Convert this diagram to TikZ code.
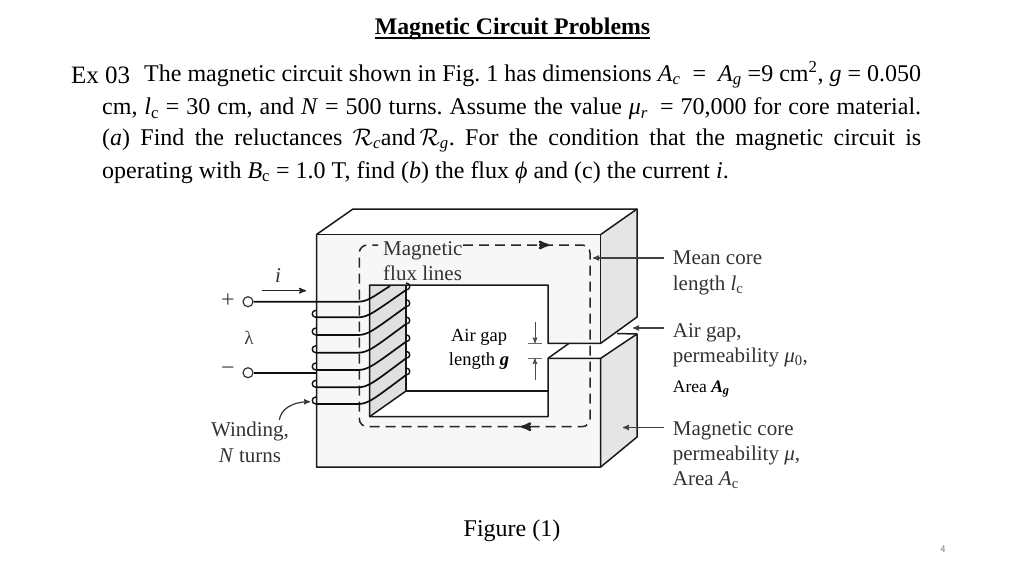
\documentclass[tikz,border=0pt]{standalone}
\usepackage{fix-cm}
\usepackage{amsmath}
\usepackage{fontspec}
\setmainfont{Liberation Serif}
\usetikzlibrary{calc}
\usetikzlibrary{arrows}
\frenchspacing
\newcommand{\fitline}[1]{\makebox[819pt][s]{#1}}
\newcommand{\vsym}[2]{\textit{#1}\textsubscript{\textit{#2}}}
\begin{document}
\begin{tikzpicture}[>=stealth',x=1pt,y=-1pt,line join=round]
\tikzset{edge/.style={draw=black!90,line width=1.5pt}}
\tikzset{wire/.style={draw=black!95,line width=1.7pt}}
\tikzset{leader/.style={draw=black!75,line width=1.2pt,->}}
\tikzset{terminal/.style={circle,draw=black!80,fill=white,line width=1.2pt,inner sep=0,minimum size=10pt}}
\tikzset{body/.style={font=\fontsize{24}{28}\selectfont,anchor=base west,inner sep=0}}
\tikzset{figlabel/.style={font=\fontsize{21}{25}\selectfont,text=black!80,anchor=base west,inner sep=0}}
\tikzset{small/.style={font=\fontsize{18.5}{22}\selectfont,anchor=base,inner sep=0}}

\useasboundingbox (0,0) rectangle (1024,576);

% text above the figure
\node[font=\fontsize{23.8}{27}\selectfont\bfseries,inner sep=0,anchor=base] (title) at (512.5,34) {Magnetic Circuit Problems};
\draw[line width=1.2pt] ($(title.base west)+(0,4)$) -- ($(title.base east)+(0,4)$);
\node[font=\fontsize{25}{29}\selectfont,anchor=base west,inner sep=0] (ex) at (71,83) {Ex 03};
\node[body] (line1) at (144,81) {\makebox[777pt][s]{The magnetic circuit shown in Fig. 1 has dimensions \vsym{A}{c}\enspace=\enspace\vsym{A}{g} =9 cm\textsuperscript{2}, \textit{g} = 0.050}};
\node[body] (line2) at (102,114.5) {\fitline{cm, \textit{l}\textsubscript{c} = 30 cm, and \textit{N} = 500 turns. Assume the value \vsym{μ}{r}\enspace= 70,000 for core material.}};
\node[body] (line3) at (102,145) {\fitline{(\textit{a}) Find the reluctances $\mathcal{R}$\textsubscript{\textit{c}}and\,$\mathcal{R}$\textsubscript{\textit{g}}. For the condition that the magnetic circuit is}};
\node[body] (line4) at (102,178) {operating with \textit{B}\textsubscript{c} = 1.0 T, find (\textit{b}) the flux \textit{ϕ} and (c) the current \textit{i}.};

% core faces
\fill[black!3] (316.5,234.5) -- (600.7,234.5) -- (600.7,343.3) -- (548,343.3) -- (548,285) -- (369.5,285) -- (369.5,416.7) -- (548,416.7) -- (548,358.3) -- (600.7,358.3) -- (600.7,467) -- (316.5,467) -- cycle;
\fill[black!10] (600.7,234.5) -- (637,209) -- (637,317) -- (600.7,343.3) -- cycle;
\fill[black!10] (600.7,358.3) -- (637,334) -- (637,437) -- (600.7,467) -- cycle;
\fill[black!12] (369.5,285) -- (406,285) -- (406,391) -- (369.5,416.7) -- cycle;

% core outline
\draw[edge] (316.5,234.5) -- (353,209) -- (637,209) -- (637,317) -- (600.7,343.3) -- (548,343.3) -- (548,285) -- (369.5,285) -- (369.5,416.7) -- (548,416.7) -- (548,358.3) -- (600.7,358.3) -- (600.7,467) -- (316.5,467) -- cycle;
\draw[edge] (316.5,234.5) -- (600.7,234.5) -- (600.7,343.3);
\draw[edge] (637,209) -- (600.7,234.5);
\draw[edge] (600.7,358.3) -- (637,334) -- (637,437) -- (600.7,467);
\draw[edge] (617,333.5) -- (637,334);
\draw[edge] (548,358.3) -- (569,343.3);
\draw[edge] (406,285) -- (406,391) -- (548,391);
\draw[edge] (406,391) -- (369.5,416.7);

% flux path, broken at its label
\draw[black!85,line width=1.5pt,dash pattern=on 10pt off 6pt,rounded corners=8pt] (463,245) -- (590,245) -- (590,426.7) -- (359.3,426.7) -- (359.3,245) -- (378,245);
\coordinate (fluxtop) at (549,245);
\coordinate (fluxbot) at (521,426.7);
\draw[black!85,line width=2.4pt,-stealth'] ($(fluxtop)+(-10,0)$) -- (fluxtop);
\draw[black!85,line width=2.4pt,-stealth'] ($(fluxbot)+(10,0)$) -- (fluxbot);

% winding
\node[terminal] (tplus) at (248,301.7) {};
\node[terminal] (tminus) at (248,372.7) {};
\draw[wire] (tplus) -- (358,301.7) .. controls (368,301.7) and (374,296) .. (390,286);
\foreach \yl/\yr in {317.3/290,335/306.7,352.7/324,370/341.7,387.3/358.3,404/375}{
  \draw[wire] (316,\yl) -- (358,\yl) .. controls (368,\yl) and (374,\yl-5) .. (406,\yr);
  \draw[wire,line width=1.4pt] (316,\yl) .. controls (311,\yl) and (311,\yl-7) .. (316,\yl-7);
  \draw[wire,line width=1.4pt] (406,\yr) .. controls (411,\yr) and (411,\yr-7) .. (406,\yr-7);
}
\draw[wire] (tminus) -- (316,372.7);
\node[inner sep=0,font=\fontsize{24}{28}\selectfont,text=black!75] (plus) at (228,300.5) {+};
\node[inner sep=0,font=\fontsize{24}{28}\selectfont,text=black!75] (minus) at (228,371) {−};
\node[inner sep=0,font=\fontsize{19}{22}\selectfont,text=black!75] (lam) at (249,338) {λ};
\node[figlabel,anchor=center] (cur) at (278,276) {\textit{i}};
\coordinate (curA) at (262,290.7);
\coordinate (curB) at (306,290.7);
\draw[black!85,line width=1.4pt,->] (curA) -- (curB);

% labels
\node[figlabel,anchor=base west] (fluxA) at (383,255) {Magnetic};
\node[figlabel,anchor=base west] (fluxB) at (383,280) {flux lines};
\node[figlabel,anchor=base] (windA) at (250,436) {Winding,};
\node[figlabel,anchor=base] (windB) at (250,462) {\textit{N} turns};
\coordinate (windtip) at (310,401.7);
\draw[black!80,line width=1.2pt,->] (279.3,420) .. controls (281,409) and (292,402) .. (windtip);

\node[figlabel] (meanA) at (672.7,264) {Mean core};
\node[figlabel] (meanB) at (672.7,290) {length \textit{l}\textsubscript{c}};
\node[figlabel] (gapA) at (672.7,337) {Air gap,};
\node[figlabel] (gapB) at (672.7,362) {permeability \textit{μ}\textsubscript{0},};
\node[small,font=\fontsize{17.5}{21}\selectfont,anchor=base west] (areag) at (672.7,392) {Area \textbf{\textit{A}\textsubscript{\textit{g}}}};
\node[figlabel] (coreA) at (672.7,435) {Magnetic core};
\node[figlabel] (coreB) at (672.7,460) {permeability \textit{μ},};
\node[figlabel] (coreC) at (672.7,485) {Area \textit{A}\textsubscript{c}};
\coordinate (meantip) at (593,258);
\coordinate (gaptip) at (633,328);
\coordinate (coretip) at (623,427.5);
\draw[leader] (664,258) -- (meantip);
\draw[leader] (664,328) -- (gaptip);
\draw[leader] (664,427.5) -- (coretip);

% air gap marks
\node[small] (airA) at (479,341) {Air gap};
\node[small] (airB) at (479,365) {length \textbf{\textit{g}}};
\draw[black!60,line width=1pt] (527.7,343.3) -- (542,343.3);
\draw[black!60,line width=1pt] (527.7,358.3) -- (542,358.3);
\coordinate (gapupper) at (535,343);
\coordinate (gaplower) at (535,358.6);
\draw[black!70,line width=1pt,->] (535,321.7) -- (gapupper);
\draw[black!70,line width=1pt,->] (535,380) -- (gaplower);

% below the figure
\node[font=\fontsize{24}{28}\selectfont,inner sep=0,anchor=base] (fig) at (512,536) {Figure (1)};
\node[font=\sffamily\fontsize{10}{12}\selectfont,text=black!55,inner sep=0] (page) at (943,549) {4};
\end{tikzpicture}
\end{document}
